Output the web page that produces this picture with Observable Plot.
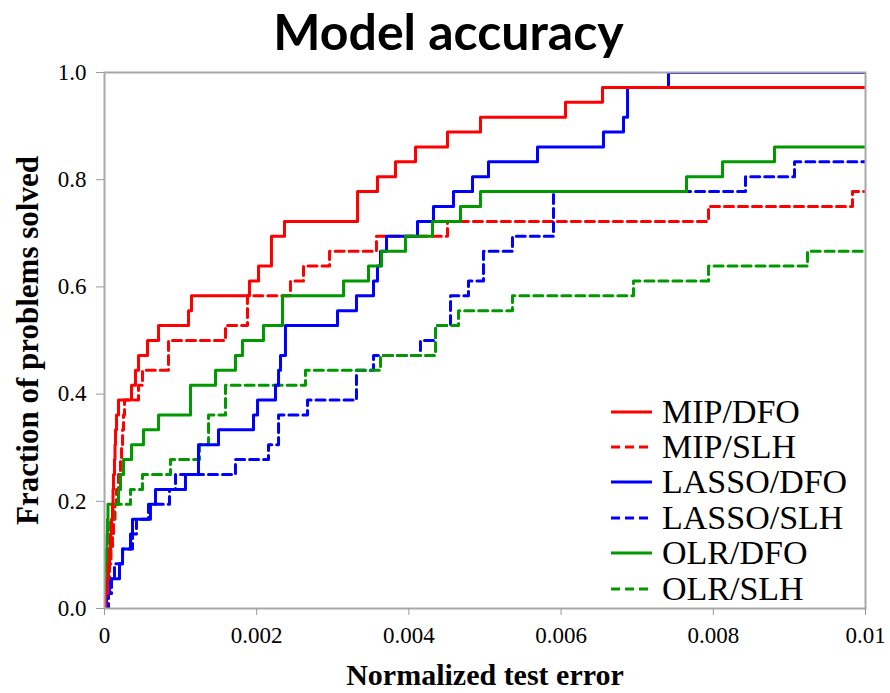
<!DOCTYPE html>
<html><head><meta charset="utf-8">
<script src="https://cdn.jsdelivr.net/npm/d3@7"></script>
<script src="https://cdn.jsdelivr.net/npm/@observablehq/plot@0.6"></script>
<style>
body{margin:0;background:#fff;}
#wrap{position:relative;width:890px;height:693px;overflow:hidden;}
#title{position:absolute;left:0;top:0;width:890px;z-index:2;text-align:center;padding-left:7px;box-sizing:border-box;font-family:Lato,'Open Sans',sans-serif;font-weight:bold;font-size:50px;line-height:62px;color:#000;}
#chart{position:absolute;left:0;top:52px;}
#legend{position:absolute;left:610px;top:394px;z-index:2;font-family:'Liberation Serif','Times New Roman',serif;font-size:34px;color:#000;}
.row{height:35.4px;display:flex;align-items:center;white-space:nowrap;}
.row svg{margin-right:9px;}
</style></head><body>
<div id="wrap"><div id="title">Model accuracy</div><div id="chart"></div><div id="legend"></div></div>
<script>
const nProblems = 36;
const methods = ["MIP/DFO","MIP/SLH","LASSO/DFO","LASSO/SLH","OLR/DFO","OLR/SLH"];
const colors = ["#ff0000","#ff0000","#0000ff","#0000ff","#009900","#009900"];
const dashed = [false,true,false,true,false,true];

// normalized test error of each solved problem (problems above 0.01 omitted)
const errMIPDFO = [0.000013,0.000039,0.000053,0.000066,0.000079,0.000092,0.000105,0.000112,0.000118,0.000131,0.000138,0.000145,0.000158,0.000184,0.000355,0.000407,0.000447,0.000565,0.00071,0.001104,0.001143,0.001905,0.002024,0.002194,0.002194,0.002365,0.003325,0.003325,0.003587,0.003824,0.004087,0.004507,0.004941,0.006058,0.006544];
const errMIPSLH = [0.000026,0.000053,0.000066,0.000085,0.000105,0.000118,0.000138,0.000158,0.000184,0.00021,0.000224,0.000237,0.00025,0.000263,0.000447,0.000499,0.000841,0.000841,0.00159,0.001879,0.001879,0.002444,0.002615,0.002957,0.003574,0.004507,0.007937,0.009829];
const errLASSODFO = [0.000026,0.000066,0.000197,0.000237,0.000342,0.000368,0.000604,0.00067,0.001064,0.001235,0.001235,0.001498,0.001958,0.002011,0.002247,0.002287,0.002313,0.002378,0.002378,0.003062,0.003311,0.003535,0.003587,0.003627,0.003706,0.004113,0.004323,0.004586,0.004836,0.005046,0.00569,0.006557,0.00682,0.006873,0.006873,0.007411];
const errLASSOSLH = [0.000053,0.000092,0.000131,0.000237,0.000368,0.00042,0.000578,0.000854,0.000933,0.001721,0.002155,0.002287,0.002287,0.002668,0.003311,0.003311,0.003535,0.004152,0.00435,0.004547,0.004547,0.004783,0.00498,0.00498,0.005361,0.0059,0.0059,0.0059,0.008423,0.009067];
const errOLRDFO = [0.000007,0.000013,0.00002,0.000026,0.000033,0.000039,0.000046,0.000184,0.00021,0.00025,0.000355,0.000512,0.00071,0.00113,0.00113,0.001459,0.001721,0.001813,0.002089,0.002339,0.002339,0.003141,0.003469,0.00364,0.003955,0.00431,0.004678,0.004941,0.007648,0.008121,0.008804];
const errOLRSLH = [0.000013,0.000026,0.000039,0.000053,0.000066,0.000079,0.000118,0.000342,0.000499,0.000867,0.001248,0.001367,0.001367,0.00159,0.00159,0.002641,0.003627,0.00435,0.00435,0.004652,0.005361,0.006951,0.007937,0.009238];
const errors = [errMIPDFO, errMIPSLH, errLASSODFO, errLASSOSLH, errOLRDFO, errOLRSLH];

const xMax = 0.01;
const xTicks = [0, 0.002, 0.004, 0.006, 0.008, 0.01];
const xTickLabels = ["0", "0.002", "0.004", "0.006", "0.008", "0.01"];
const yTicks = [0, 0.2, 0.4, 0.6, 0.8, 1.0];
const yTickLabels = ["0.0", "0.2", "0.4", "0.6", "0.8", "1.0"];

// build step profiles (empirical CDF of the errors)
function profile(errs, name) {
  const s = errs.slice().sort((a, b) => a - b);
  const pts = [{method: name, x: 0, y: 0}];
  s.forEach((e, i) => pts.push({method: name, x: e, y: (i + 1) / nProblems}));
  pts.push({method: name, x: xMax, y: s.length / nProblems});
  return pts;
}
const series = methods.map((m, i) => profile(errors[i], m));

const drawOrder = [1, 3, 5, 2, 4, 0];
const serif = "'Liberation Serif','Times New Roman',serif";

const lineMarks = drawOrder.map(i => Plot.line(series[i], {
  x: "x", y: "y", curve: "step-after", stroke: colors[i], strokeWidth: 3,
  strokeDasharray: dashed[i] ? "9,5" : null, clip: true
}));

const chart = Plot.plot({
  width: 890, height: 641,
  marginLeft: 104, marginRight: 25, marginTop: 20, marginBottom: 85,
  style: {fontFamily: serif, background: "white", color: "black", overflow: "visible"},
  x: {domain: [0, xMax]},
  y: {domain: [0, 1]},
  marks: [
    ...lineMarks,
    Plot.frame({stroke: "#a8a8a8", strokeWidth: 2}),
    Plot.axisX({ticks: xTicks, tickFormat: d => xTickLabels[xTicks.indexOf(d)], tickSize: 7, tickPadding: 11, stroke: "#999", fill: "black", fontSize: 23, label: null}),
    Plot.axisY({ticks: yTicks, tickFormat: d => yTickLabels[yTicks.indexOf(d)], tickSize: 8, tickPadding: 10, stroke: "#999", fill: "black", fontSize: 23, label: null}),
    Plot.text(["Normalized test error"], {text: d => d, frameAnchor: "bottom", textAnchor: "middle", lineAnchor: "middle", dy: 67, fontSize: 30, fontWeight: "bold", fill: "black"}),
    Plot.text(["Fraction of problems solved"], {text: d => d, frameAnchor: "left", textAnchor: "middle", lineAnchor: "middle", dx: -76, rotate: -90, fontSize: 31, fontWeight: "bold", fill: "black"})
  ]
});
document.getElementById("chart").appendChild(chart);

// legend
const legend = document.getElementById("legend");
methods.forEach((m, i) => {
  const row = document.createElement("div");
  row.className = "row";
  row.innerHTML = `<svg width="43" height="10"><line x1="1" x2="42" y1="5" y2="5" stroke="${colors[i]}" stroke-width="3" ${dashed[i] ? 'stroke-dasharray="9,5"' : ''}/></svg><span>${m}</span>`;
  legend.appendChild(row);
});
</script>
</body></html>
